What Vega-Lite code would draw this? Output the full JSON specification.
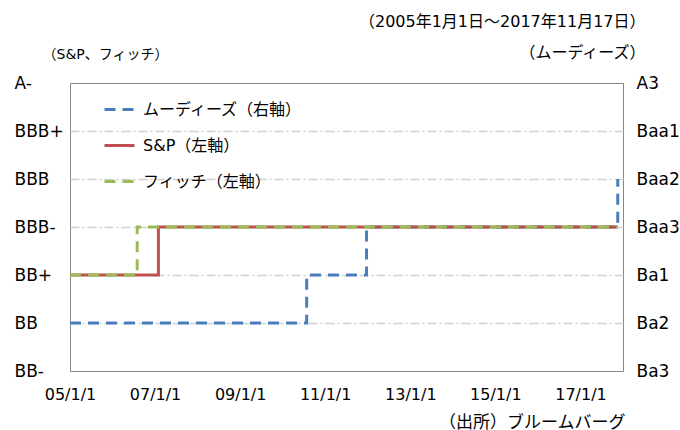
{
  "$schema": "https://vega.github.io/schema/vega-lite/v6.json",
  "width": 553,
  "height": 288,
  "autosize": {"type": "none"},
  "padding": {"left": 70, "top": 83, "right": 57, "bottom": 59},
  "background": "white",
  "config": {
    "view": {"stroke": "#868686", "strokeWidth": 1},
    "font": "DejaVu Sans, Noto Sans CJK JP",
    "axis": {"labelColor": "#000000", "titleColor": "#000000", "titleFontWeight": "normal", "labelFont": "DejaVu Sans", "titleFont": "DejaVu Sans, Noto Sans CJK JP"},
    "legend": {"labelFont": "DejaVu Sans, Noto Sans CJK JP"}
  },
  "datasets": {
    "moodys": [
      {"date": "2005-01-01", "rating": "Ba2", "level": 1, "agency": "ムーディーズ（右軸）"},
      {"date": "2010-07-26", "rating": "Ba1", "level": 2, "agency": "ムーディーズ（右軸）"},
      {"date": "2011-12-22", "rating": "Baa3", "level": 3, "agency": "ムーディーズ（右軸）"},
      {"date": "2017-11-17", "rating": "Baa2", "level": 4, "agency": "ムーディーズ（右軸）"}
    ],
    "spfitch": [
      {"date": "2005-01-01", "rating": "BB+", "level": 2, "agency": "S&P（左軸）"},
      {"date": "2007-01-30", "rating": "BBB-", "level": 3, "agency": "S&P（左軸）"},
      {"date": "2017-11-17", "rating": "BBB-", "level": 3, "agency": "S&P（左軸）"},
      {"date": "2005-01-01", "rating": "BB+", "level": 2, "agency": "フィッチ（左軸）"},
      {"date": "2006-08-01", "rating": "BBB-", "level": 3, "agency": "フィッチ（左軸）"},
      {"date": "2017-11-17", "rating": "BBB-", "level": 3, "agency": "フィッチ（左軸）"}
    ]
  },
  "encoding": {
    "x": {
      "field": "date", "type": "temporal",
      "scale": {"type": "utc", "domain": [{"year": 2005, "month": 1, "date": 1, "utc": true}, {"year": 2018, "month": 1, "date": 1, "utc": true}]},
      "axis": {
        "values": [
          {"year": 2005, "month": 1, "date": 1, "utc": true},
          {"year": 2007, "month": 1, "date": 1, "utc": true},
          {"year": 2009, "month": 1, "date": 1, "utc": true},
          {"year": 2011, "month": 1, "date": 1, "utc": true},
          {"year": 2013, "month": 1, "date": 1, "utc": true},
          {"year": 2015, "month": 1, "date": 1, "utc": true},
          {"year": 2017, "month": 1, "date": 1, "utc": true}
        ],
        "labelExpr": "utcFormat(datum.value, '%y/%-m/%-d')",
        "grid": false, "ticks": false, "domain": false,
        "labelFontSize": 16, "labelPadding": 15, "labelFlush": false, "labelOverlap": false,
        "title": "（出所）ブルームバーグ", "titleFontSize": 17,
        "titleX": 555, "titleY": 51, "titleAlign": "right", "titleBaseline": "middle"
      }
    },
    "color": {
      "field": "agency", "type": "nominal",
      "scale": {"domain": ["ムーディーズ（右軸）", "S&P（左軸）", "フィッチ（左軸）"], "range": ["#4A7EBB", "#C0504D", "#9BBB59"]},
      "legend": {
        "orient": "none", "legendX": 33, "legendY": 10, "title": null,
        "symbolType": "stroke", "symbolSize": 900, "symbolStrokeWidth": 3,
        "labelFontSize": 16, "labelOffset": 7, "rowPadding": 11, "labelColor": "#000000", "labelLimit": 300
      }
    },
    "strokeDash": {
      "field": "agency", "type": "nominal",
      "scale": {"domain": ["ムーディーズ（右軸）", "S&P（左軸）", "フィッチ（左軸）"], "range": [[11, 7], [1, 0], [11, 7]]},
      "legend": {
        "orient": "none", "legendX": 33, "legendY": 10, "title": null,
        "symbolType": "stroke", "symbolSize": 900, "symbolStrokeWidth": 3,
        "labelFontSize": 16, "labelOffset": 7, "rowPadding": 11, "labelColor": "#000000", "labelLimit": 300
      }
    }
  },
  "layer": [
    {
      "data": {"name": "moodys"},
      "mark": {"type": "line", "interpolate": "step-after", "strokeWidth": 3},
      "encoding": {
        "y": {
          "field": "level", "type": "quantitative",
          "scale": {"domain": [0, 6], "nice": false, "zero": false},
          "axis": {
            "orient": "right",
            "values": [0, 1, 2, 3, 4, 5, 6],
            "labelExpr": "['Ba3','Ba2','Ba1','Baa3','Baa2','Baa1','A3'][datum.value]",
            "grid": false, "ticks": false, "domain": false,
            "labelFontSize": 17, "labelPadding": 13, "labelAlign": "left",
            "title": ["（2005年1月1日～2017年11月17日）", "（ムーディーズ）"],
            "titleFontSize": 16, "titleAngle": 0, "titleAlign": "right", "titleBaseline": "middle",
            "titleLineHeight": 31, "titleX": 22, "titleY": -62
          }
        }
      }
    },
    {
      "data": {"name": "spfitch"},
      "mark": {"type": "line", "interpolate": "step-after", "strokeWidth": 3},
      "encoding": {
        "y": {
          "field": "level", "type": "quantitative",
          "scale": {"domain": [0, 6], "nice": false, "zero": false},
          "axis": {
            "orient": "left",
            "values": [0, 1, 2, 3, 4, 5, 6],
            "labelExpr": "['BB-','BB','BB+','BBB-','BBB','BBB+','A-'][datum.value]",
            "grid": true,
            "gridColor": {"condition": {"test": "datum.value == 0 || datum.value == 6", "value": "transparent"}, "value": "#D0D0D0"},
            "gridDash": [9, 3, 2, 3], "gridWidth": 1.3,
            "ticks": false, "domain": false,
            "labelFontSize": 17, "labelPadding": 56, "labelAlign": "left",
            "title": "（S&P、フィッチ）", "titleFontSize": 14, "titleAngle": 0, "titleAlign": "left", "titleBaseline": "middle",
            "titleX": -28, "titleY": -29
          }
        }
      }
    }
  ],
  "resolve": {"scale": {"y": "independent"}, "axis": {"y": "independent"}}
}
